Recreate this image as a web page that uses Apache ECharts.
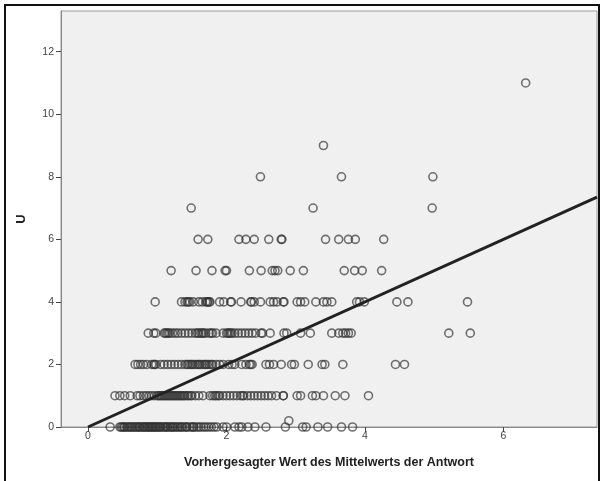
<!DOCTYPE html>
<html>
<head>
<meta charset="utf-8">
<script src="https://cdn.jsdelivr.net/npm/echarts@6/dist/echarts.min.js"></script>
<style>html,body{margin:0;padding:0;background:#fff;}#c{width:601px;height:481px;}</style>
</head>
<body>
<div id="c"></div>
<script>
// Observed values grouped by U (y) value; x = predicted mean
const row0 = [0.32,0.46,0.48,0.5,0.52,0.53,0.56,0.58,0.6,0.62,0.64,0.66,0.68,0.7,0.72,0.74,0.75,0.78,0.8,0.81,0.83,0.85,0.87,0.88,0.9,0.92,0.93,0.95,0.97,0.98,1.0,1.02,1.04,1.05,1.08,1.1,1.12,1.14,1.15,1.18,1.2,1.22,1.23,1.26,1.28,1.3,1.33,1.35,1.36,1.4,1.42,1.43,1.47,1.5,1.52,1.53,1.57,1.6,1.63,1.67,1.7,1.74,1.78,1.82,1.86,1.95,2.0,2.12,2.18,2.22,2.31,2.41,2.57,2.85,3.1,3.15,3.32,3.46,3.66,3.82];
const row1 = [0.39,0.46,0.53,0.61,0.71,0.75,0.8,0.84,0.88,0.92,0.96,1.0,1.02,1.04,1.06,1.08,1.1,1.12,1.14,1.16,1.18,1.2,1.22,1.24,1.26,1.28,1.3,1.32,1.34,1.36,1.38,1.4,1.43,1.45,1.48,1.5,1.55,1.6,1.66,1.76,1.8,1.83,1.85,1.88,1.9,1.95,2.0,2.05,2.1,2.15,2.2,2.23,2.25,2.3,2.35,2.4,2.45,2.5,2.55,2.6,2.65,2.72,2.82,2.82,3.02,3.07,3.24,3.29,3.4,3.57,3.71,4.05];
const row2 = [0.68,0.72,0.76,0.8,0.85,0.92,0.95,0.96,0.98,1.05,1.1,1.15,1.2,1.25,1.3,1.35,1.4,1.43,1.45,1.48,1.5,1.52,1.55,1.58,1.6,1.62,1.65,1.68,1.7,1.72,1.75,1.78,1.8,1.85,1.9,1.95,2.03,2.08,2.12,2.22,2.28,2.33,2.35,2.37,2.57,2.62,2.68,2.79,2.94,2.98,3.18,3.38,3.42,3.68,4.44,4.57];
const row3 = [0.87,0.95,0.98,1.1,1.12,1.14,1.16,1.18,1.22,1.26,1.3,1.35,1.4,1.45,1.5,1.55,1.58,1.6,1.63,1.65,1.67,1.7,1.75,1.78,1.8,1.85,1.95,2.0,2.02,2.04,2.06,2.08,2.12,2.17,2.22,2.27,2.32,2.37,2.42,2.5,2.52,2.63,2.83,2.87,3.07,3.21,3.52,3.62,3.68,3.72,3.76,3.8,5.21,5.52];
const row4 = [0.97,1.35,1.4,1.43,1.45,1.47,1.52,1.6,1.65,1.7,1.72,1.73,1.75,1.76,1.9,1.96,2.06,2.07,2.21,2.35,2.36,2.4,2.49,2.63,2.68,2.73,2.82,2.83,3.02,3.07,3.13,3.29,3.4,3.45,3.52,3.88,3.92,3.99,4.46,4.62,5.48];
const row5 = [1.2,1.56,1.79,1.98,2.0,2.33,2.5,2.66,2.7,2.74,2.92,3.11,3.7,3.85,3.96,4.24];
const row6 = [1.59,1.73,2.18,2.28,2.4,2.61,2.79,2.8,3.43,3.62,3.76,3.86,4.27];
const row7 = [1.49,3.25,4.97];
const row8 = [2.49,3.66,4.98];
const row9 = [3.4];
const row11 = [6.32];
const extraPoints = [[2.9,0.2]];
// Fit line endpoints
const fitLine = [[0,0],[7.35,7.35]];
// Tick labels
const xTicks = [0,2,4,6];
const yTicks = [0,2,4,6,8,10,12];
const xTitle = 'Vorhergesagter Wert des Mittelwerts der Antwort';
const yTitle = 'U';

const rows = [[0,row0],[1,row1],[2,row2],[3,row3],[4,row4],[5,row5],[6,row6],[7,row7],[8,row8],[9,row9],[11,row11]];
const points = [];
rows.forEach(([y, xs]) => xs.forEach(x => points.push([x, y])));
extraPoints.forEach(p => points.push(p));

const chart = echarts.init(document.getElementById('c'), null, {renderer:'canvas'});
const tickLabel = {color:'#444', fontSize:10.5, fontFamily:'Liberation Sans, Arial, sans-serif'};
chart.setOption({
  animation:false,
  backgroundColor:'#fff',
  grid:{left:61, top:11, right:4, bottom:54, show:true, backgroundColor:'#f0f0f0', borderColor:'#999', borderWidth:1},
  xAxis:{type:'value', min:-0.39, max:7.35,
    name:xTitle, nameLocation:'middle', nameGap:29,
    nameTextStyle:{color:'#222', fontSize:12.5, fontWeight:'bold', fontFamily:'Liberation Sans, Arial, sans-serif'},
    axisLine:{show:true, onZero:false, lineStyle:{color:'#888', width:1}},
    axisTick:{show:true, length:5, lineStyle:{color:'#444'}, customValues:xTicks},
    axisLabel:Object.assign({margin:4, customValues:xTicks}, tickLabel),
    splitLine:{show:false}},
  yAxis:{type:'value', min:0, max:13.3,
    name:yTitle, nameLocation:'middle', nameGap:33,
    nameTextStyle:{color:'#222', fontSize:13, fontWeight:'bold', fontFamily:'Liberation Sans, Arial, sans-serif'},
    axisLine:{show:true, onZero:false, lineStyle:{color:'#888', width:1}},
    axisTick:{show:true, length:5, lineStyle:{color:'#444'}, customValues:yTicks},
    axisLabel:Object.assign({margin:7, customValues:yTicks}, tickLabel),
    splitLine:{show:false}},
  graphic:[{type:'rect', shape:{x:5, y:5, width:594, height:490}, style:{fill:null, stroke:'#111', lineWidth:2}, z:100}],
  series:[
    {type:'scatter', data:points, symbol:'circle', symbolSize:8,
     itemStyle:{color:'rgba(0,0,0,0)', borderColor:'rgba(50,50,50,0.85)', borderWidth:1.6}, z:2},
    {type:'line', data:fitLine, symbol:'none', lineStyle:{color:'#222', width:3}, z:3}
  ]
});
</script>
</body>
</html>
